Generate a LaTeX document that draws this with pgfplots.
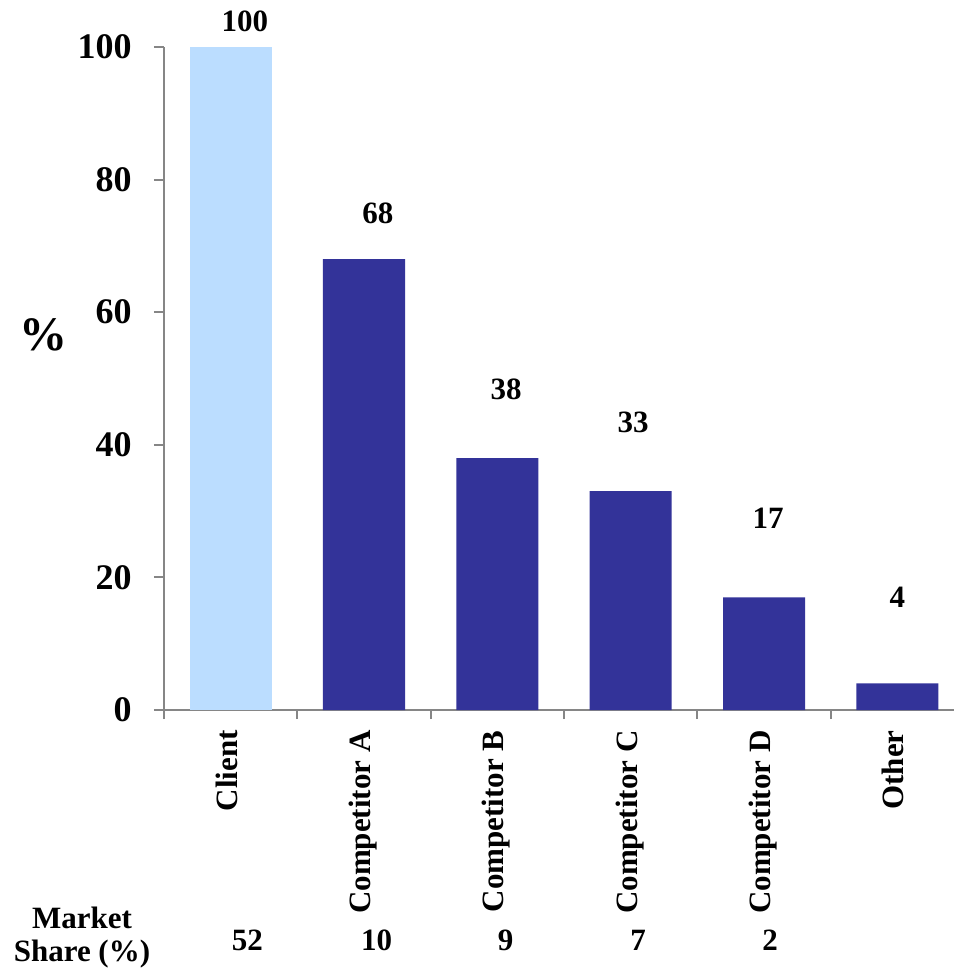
\documentclass[border=0pt]{standalone}
\usepackage{fontspec}
\setmainfont{Liberation Serif}
\usepackage{pgfplots}
\pgfplotsset{compat=1.18}
\usepackage{pgfplotstable}
\definecolor{clientblue}{RGB}{187,221,255}
\definecolor{compblue}{RGB}{51,51,153}
\definecolor{axisgray}{RGB}{134,134,134}

\pgfplotstableread{
x y
0 100
}\clientdata
\pgfplotstableread{
x y
1 68
2 38
3 33
4 17
5 4
}\compdata
\pgfplotstableread{
x y label
0.107 102.3 100
1.105 73.4 68
2.065 46.8 38
3.018 41.8 33
4.03 27.45 17
5.0 15.4 4
}\valuelabels
\pgfplotstableread{
x y label
0.126 -36.2 52
1.094 -36.2 10
2.063 -36.2 9
3.055 -36.2 7
4.046 -36.2 2
}\sharelabels

\newcommand{\lblfont}{\bfseries\fontsize{15.5}{18}\selectfont}

\begin{document}
\begin{tikzpicture}
\begin{axis}[
  at={(0,0)}, anchor=south west,
  scale only axis, width=395pt, height=331.5pt,
  xmin=-0.5, xmax=5.425, ymin=0, ymax=100,
  clip=false,
  axis x line*=bottom, axis y line*=left,
  axis line style={draw=axisgray, line width=1pt},
  ytick={0,20,...,100},
  xtick={0,...,5},
  xticklabels={Client, Competitor A, Competitor B, Competitor C, Competitor D, Other},
  minor xtick={-0.5,0.5,...,4.5},
  tick align=outside,
  major tick length=5pt,
  minor tick length=4.5pt,
  major x tick style={draw=none},
  minor x tick style={draw=axisgray, line width=1pt},
  ytick style={draw=axisgray, line width=1pt},
  /pgf/number format/assume math mode=true,
  yticklabel style={font=\bfseries\fontsize{18}{20}\selectfont, inner sep=0pt, anchor=east},
  yticklabel shift=11pt,
  xticklabel style={font=\lblfont, rotate=90, anchor=east, inner sep=0pt, text height=0.66em, text depth=0pt},
  xticklabel shift=5pt,
  ylabel={\%},
  every axis y label/.style={at={(axis description cs:-0.152,0.566)}, anchor=center, font=\bfseries\fontsize{24}{26}\selectfont, inner sep=0pt},
]
\addplot[ybar, bar width=0.615, bar shift=0pt, fill=clientblue, draw=none] table[x=x,y=y]{\clientdata};
\addplot[ybar, bar width=0.615, bar shift=0pt, fill=compblue, draw=none] table[x=x,y=y]{\compdata};
\addplot[draw=none, mark=none, nodes near coords, point meta=explicit symbolic,
  every node near coord/.append style={anchor=base, inner sep=0pt, font=\lblfont}]
  table[x=x,y=y,meta=label]{\valuelabels};
\addplot[draw=none, mark=none, nodes near coords, point meta=explicit symbolic,
  every node near coord/.append style={anchor=base, inner sep=0pt, font=\lblfont}]
  table[x=x,y=y,meta=label]{\sharelabels};
\node[anchor=base, inner sep=0pt, font=\lblfont] at (axis cs:-1.115,-32.9) {Market};
\node[anchor=base, inner sep=0pt, font=\lblfont] at (axis cs:-1.115,-37.86) {Share (\%)};
\end{axis}
\pgfresetboundingbox
\path[use as bounding box] (-82pt,-130.5pt) rectangle (395pt,355pt);
\end{tikzpicture}
\end{document}
